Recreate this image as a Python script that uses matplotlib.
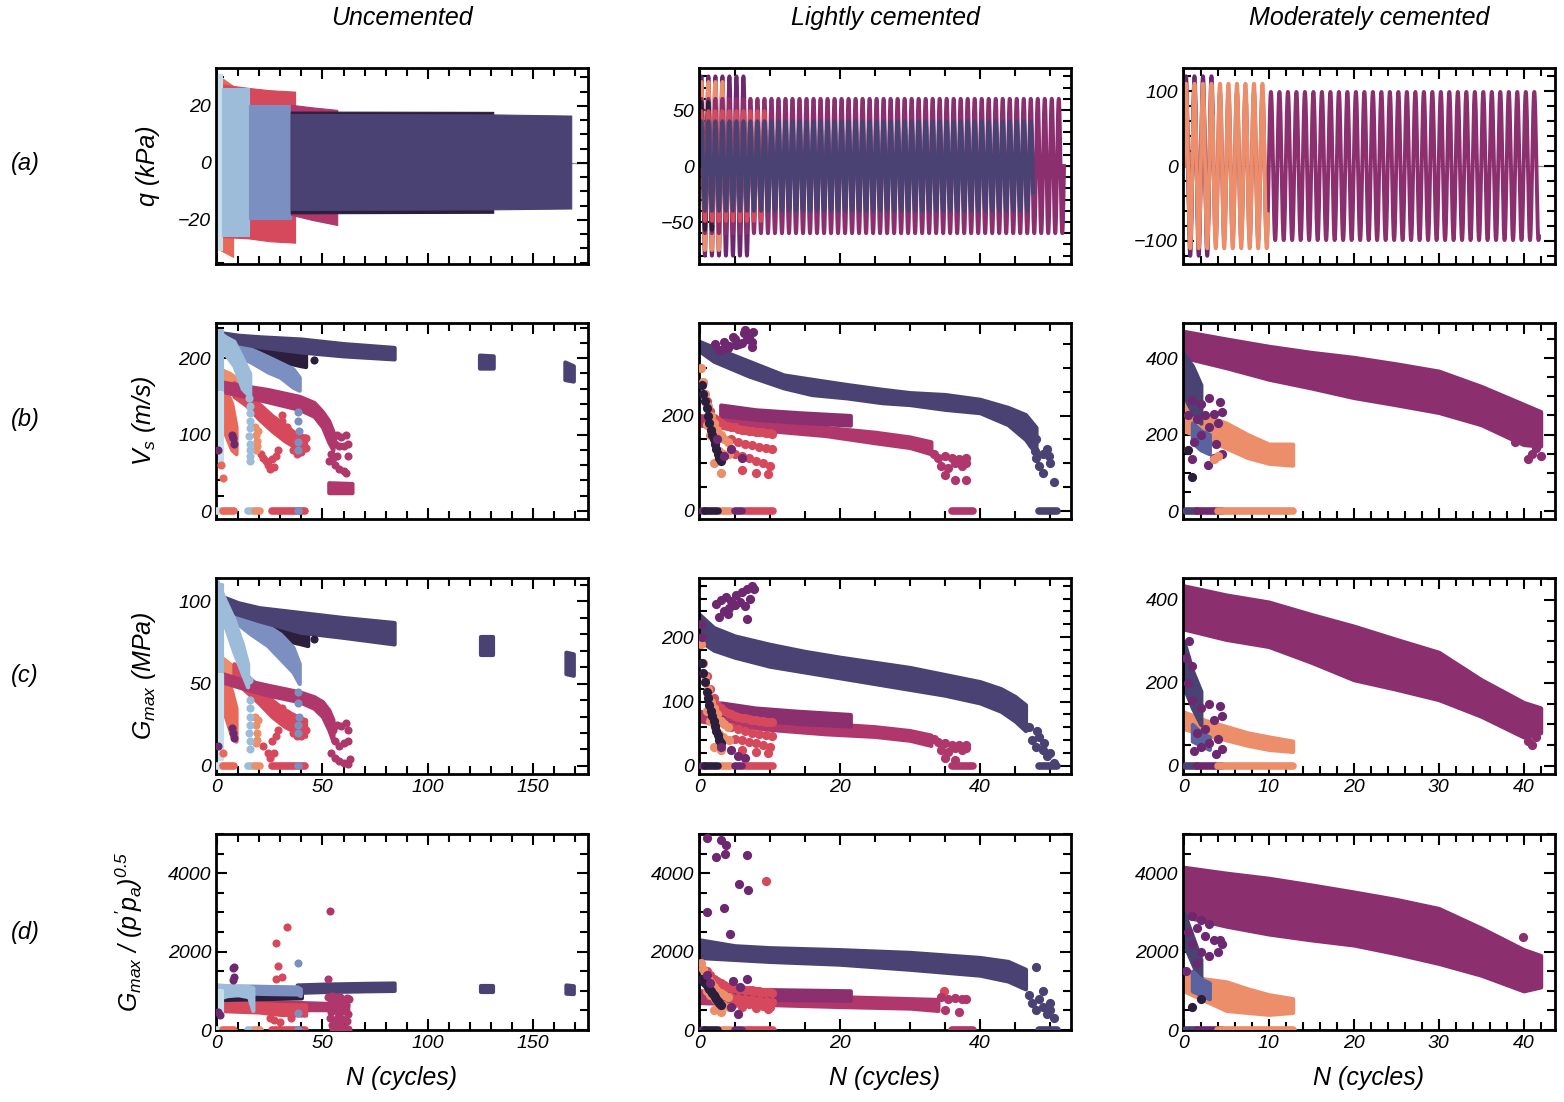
import numpy as np
import matplotlib
matplotlib.use("Agg")
import matplotlib.pyplot as plt
from matplotlib.ticker import MultipleLocator

plt.rcParams["font.family"] = "Liberation Sans"
plt.rcParams["font.style"] = "italic"
plt.rcParams["mathtext.fontset"] = "custom"
plt.rcParams["mathtext.it"] = "Liberation Sans:italic"
plt.rcParams["mathtext.rm"] = "Liberation Sans:italic"

# specimen colours
NAVY = "#2b1f3d"
SLATE = "#4a4272"
BLUEGREY = "#5b62a0"
PERI = "#7b90c0"
LIGHT = "#9cbcd9"
PALE = "#c6dfea"
PURPLE = "#6d2870"
PLUM = "#8b2f6f"
MAGENTA = "#b0376b"
RED = "#d6485c"
CORAL = "#e8685a"
ORANGE = "#ec8e69"

# ---------------- Uncemented ----------------
# deviator stress envelopes: (colour, N, upper, lower)
unc_q_blocks = [
    (CORAL, [0, 7.6], [31, 27], [-30, -33]),
    (RED, [2.5, 15, 25, 37], [27.5, 26.3, 25.5, 25], [-26, -26.5, -27.5, -28]),
    (PALE, [0, 2.4], [31.2, 31.2], [-30.5, -30.5]),
    (LIGHT, [2.4, 15.3], [26.3, 26.3], [-25.6, -25.6]),
    (PERI, [15.3, 35], [20.4, 20.4], [-19.8, -19.8]),
    (MAGENTA, [35, 45, 57], [20.4, 19.5, 18.6], [-18.2, -20, -21.8]),
    (NAVY, [35, 131], [18.0, 17.9], [-17.7, -17.5]),
    (SLATE, [35, 131, 168], [17.2, 17.0, 16.6], [-16.5, -16.3, -16.0]),
]

# shear wave velocity bands: (colour, N, upper, lower)
unc_vs_bands = [
    (CORAL, [1, 4, 7, 9], [170, 160, 140, 110], [140, 100, 80, 75]),
    (ORANGE, [2, 6, 10], [185, 180, 172], [172, 165, 160]),
    (RED, [8, 14, 20, 26, 32, 38, 42], [168, 155, 140, 125, 113, 100, 98],
     [150, 138, 120, 105, 92, 82, 80]),
    (MAGENTA, [0, 10, 24, 39, 46, 50, 53, 55], [170, 165, 159, 150, 142, 130, 118, 104],
     [158, 152, 143, 133, 124, 110, 90, 80]),
    (MAGENTA, [53, 64], [37, 36], [24, 24]),
    (NAVY, [3, 10, 20, 30, 40, 42], [226, 220, 214, 210, 206, 204], [222, 212, 203, 196, 190, 189]),
    (PERI, [0, 8, 16, 24, 30, 36, 39], [234, 222, 212, 202, 194, 186, 175],
     [226, 205, 195, 182, 175, 162, 158]),
    (SLATE, [0, 10, 20, 40, 60, 84], [234, 230, 228, 225, 219, 214], [226, 220, 215, 208, 203, 199]),
    (SLATE, [124.5, 131], [204, 203], [187, 187]),
    (SLATE, [165, 169], [195, 190], [172, 170]),
    (LIGHT, [0, 4, 8, 12, 15.5], [236, 228, 222, 200, 180], [228, 205, 190, 160, 150]),
    (LIGHT, [0.3, 2.5], [236, 236], [150, 150]),
    (PALE, [0.3, 2.5], [155, 155], [62, 62]),
]
unc_vs_dots = [
    (RED, [21, 22, 23, 24, 25, 26, 28, 29, 27, 31, 31, 33, 36, 38, 40, 42, 42, 35],
     [75, 70, 66, 60, 55, 68, 72, 80, 58, 125, 118, 110, 80, 75, 77, 82, 95, 100]),
    (MAGENTA, [53, 55, 57, 59, 61, 56, 58, 60, 62, 54, 55, 56, 58, 60, 61, 53, 57, 62],
     [98, 95, 100, 97, 100, 88, 85, 85, 88, 75, 70, 60, 55, 52, 50, 65, 72, 72]),
    (CORAL, [3, 2], [43, 60]),
    (ORANGE, [18, 18.5, 19, 19, 18.5, 19.5], [110, 100, 92, 85, 80, 105]),
    (PURPLE, [7.5, 8, 7, 0.5], [95, 88, 100, 80]),
    (PERI, [38.5, 38.5, 38.8, 38.5, 38.2], [130, 118, 105, 90, 80]),
    (NAVY, [46], [197]),
    (LIGHT, [15.3, 15.7, 15.4, 15.8, 15.5, 15.2, 15.6, 15.4, 15.7, 15.5],
     [148, 138, 128, 118, 108, 98, 88, 80, 72, 65]),
]
unc_zero = [(PALE, 0, 2.5), (CORAL, 3, 8), (LIGHT, 14.5, 17), (ORANGE, 18, 20.5),
            (RED, 26, 41.5), (PERI, 38.5, 39), (SLATE, 168.5, 168.6)]

# small-strain stiffness bands
unc_g_bands = [
    (CORAL, [1, 4, 7, 9], [62, 56, 45, 35], [45, 30, 18, 15]),
    (ORANGE, [2, 6, 10], [66, 62, 56], [58, 54, 50]),
    (RED, [8, 14, 20, 26, 32, 38, 42], [62, 55, 48, 40, 34, 30, 28], [52, 45, 38, 30, 24, 20, 18]),
    (MAGENTA, [0, 10, 24, 39, 46, 50, 53, 55], [57, 53, 49, 45, 42, 39, 34, 28],
     [52, 48, 43, 39, 35, 30, 22, 15]),
    (NAVY, [3, 10, 20, 30, 40, 43], [98, 93, 88, 84, 81, 80], [94, 88, 82, 77, 74, 73]),
    (PERI, [0, 8, 16, 24, 30, 36, 39], [105, 97, 91, 85, 80, 72, 62], [100, 88, 80, 73, 65, 57, 50]),
    (SLATE, [0, 10, 20, 40, 60, 84], [104, 99, 96, 93, 90, 87], [97, 92, 88, 81, 78, 74]),
    (SLATE, [125, 131], [78, 78], [67, 67]),
    (SLATE, [165.5, 169], [69, 68], [56, 55]),
    (LIGHT, [0, 4, 8, 12, 14.5], [112, 100, 89, 74, 62], [102, 84, 69, 56, 48]),
    (LIGHT, [0.3, 2.5], [110, 110], [50, 50]),
    (PALE, [0.3, 2.5], [55, 55], [4, 4]),
]
unc_g_dots = [
    (RED, [22, 24, 25, 26, 28, 29, 31, 33, 36, 38, 40, 42, 27],
     [12, 8, 5, 15, 18, 22, 35, 32, 20, 18, 18, 22, 8]),
    (MAGENTA, [55, 57, 59, 61, 62, 56, 58, 60, 62, 54, 56, 58, 60, 62, 63],
     [22, 25, 24, 26, 22, 15, 12, 14, 15, 8, 5, 3, 2, 1, 4]),
    (CORAL, [3], [8]),
    (ORANGE, [18, 18.5, 19, 19, 18.5, 19.5], [30, 25, 20, 16, 14, 28]),
    (PURPLE, [7.5, 8, 7, 0.5], [20, 17, 23, 12]),
    (PERI, [38.5, 38.5, 38.8, 38.5, 38.2], [45, 38, 30, 25, 20]),
    (NAVY, [46], [77]),
    (LIGHT, [15.3, 15.7, 15.4, 15.8, 15.5, 15.2, 15.6, 15.5], [52, 40, 35, 30, 25, 20, 15, 10]),
]

# normalised stiffness bands
unc_n_bands = [
    (MAGENTA, [0, 20, 40, 52, 62], [760, 720, 700, 680, 690], [560, 540, 520, 520, 500]),
    (RED, [0, 10, 20, 30, 42], [720, 700, 680, 650, 640], [500, 480, 460, 400, 380]),
    (NAVY, [2, 20, 40], [900, 910, 920], [780, 800, 820]),
    (SLATE, [38, 50, 60, 70, 84], [1150, 1170, 1180, 1190, 1200], [960, 980, 990, 1000, 1010]),
    (SLATE, [125, 131], [1120, 1120], [960, 960]),
    (SLATE, [165.5, 169], [1150, 1130], [940, 930]),
    (PERI, [0, 17, 25, 38, 39.5], [1120, 1120, 1110, 1100, 1050], [950, 940, 930, 920, 880]),
    (LIGHT, [0, 5, 10, 15, 17], [1150, 1130, 1120, 1110, 1080], [800, 880, 900, 850, 500]),
    (PALE, [0.3, 2.5], [1000, 1000], [420, 420]),
]
unc_n_dots = [
    (RED, [27.8, 29, 33, 31, 27.8, 25, 27, 30, 35], [2210, 1630, 2630, 1360, 1290, 300, 250, 200, 300]),
    (MAGENTA, [52.5, 53.5, 54.5, 55.5, 56.5, 57.5, 58.5, 59.5, 60.5, 61.5, 62.5, 53, 55, 57, 59, 61,
               54, 56, 58, 60, 62, 53.5, 55.5, 57.5, 59.5, 61.5, 54.5, 56.5, 58.5, 60.5, 62, 55, 59],
     [850, 820, 860, 800, 840, 780, 830, 800, 760, 820, 790, 650, 600, 680, 620, 640,
      450, 500, 420, 480, 400, 300, 250, 320, 280, 220, 120, 80, 150, 60, 30, 40, 20]),
    (MAGENTA, [53.6, 52.4], [3030, 1290]),
    (PERI, [38.2, 38.5], [1715, 430]),
    (PURPLE, [7.7, 8.2, 7.7, 7.9, 0.5, 1.5], [1590, 1620, 1280, 1350, 450, 380]),
]

# ---------------- Lightly cemented ----------------
# sinusoidal loading: (colour, last cycle, amplitude kPa)
light_q_tests = [
    (PURPLE, 6.9, 80),
    (ORANGE, 3.4, 75),
    (PLUM, 52.0, 60),
    (NAVY, 1.8, 57),
    (RED, 9.5, 49),
    (SLATE, 47.6, 40),
]

# early-failure clusters share the same cycle positions in every panel
light_red_n = [1, 1.5, 2, 2.5, 3, 3.5, 4, 4.5, 5, 5.5, 6, 6.5, 7, 7.5, 8, 8.5, 9, 9.5, 10, 10.3,
               4.5, 5.5, 6.5, 7.5, 8.5, 9.5, 10.3, 5, 6, 7, 8, 9, 10, 6, 8, 9.8]
light_orange_n = [0.2, 0.5, 0.8, 1.2, 1.6, 2, 2.5, 3, 3.5, 4, 1, 1.5, 2.2, 2.8, 3.3, 4.2, 2, 3]
light_navy_n = [0.3, 0.5, 0.7, 1, 1.2, 1.4, 1.6, 1.8, 2, 2.2, 2.4, 2.6, 2.8, 3]

light_vs_bands = [
    (MAGENTA, [0, 5, 11, 18, 25, 30, 33], [200, 190, 185, 175, 165, 155, 145],
     [180, 172, 167, 158, 143, 133, 120]),
    (PLUM, [3, 8, 14, 21.5], [222, 212, 206, 200], [200, 192, 186, 180]),
    (SLATE, [0, 2, 7, 12, 16, 21, 26, 30, 35, 40, 44, 46.5, 48],
     [355, 343, 314, 285, 276, 265, 255, 248, 244, 234, 217, 202, 175],
     [335, 314, 283, 258, 244, 237, 227, 223, 213, 206, 181, 150, 120]),
]
light_vs_dots = [
    (RED, light_red_n,
     [230, 210, 195, 190, 185, 180, 178, 176, 175, 172, 170, 170, 168, 168, 166, 165, 165, 164, 163, 162,
      150, 145, 140, 138, 135, 132, 130, 120, 115, 110, 105, 100, 95, 85, 80, 78]),
    (ORANGE, light_orange_n,
     [300, 270, 245, 220, 200, 185, 170, 160, 150, 145, 180, 160, 140, 125, 120, 120, 100, 80]),
    (NAVY, light_navy_n, [265, 245, 230, 215, 200, 185, 170, 160, 150, 140, 130, 120, 110, 105]),
    (SLATE, [47, 47.5, 48, 48.5, 49, 49.5, 50, 50.5, 49, 48, 47.8, 49.8],
     [160, 140, 110, 95, 120, 130, 100, 61, 80, 150, 125, 115]),
    (PURPLE, [2.2, 2.8, 3.5, 4.2, 5, 5.6, 6.3, 7, 7.6, 3, 4, 5.2, 6, 6.8, 7.4, 4.8, 6.5, 7.5],
     [350, 338, 355, 345, 360, 350, 372, 365, 375, 337, 342, 348, 352, 360, 343, 365, 380, 355]),
    (MAGENTA, [33.5, 34, 35, 36, 37, 38, 34.5, 35.5, 36.5, 37.5, 38, 35, 36.5, 38],
     [120, 110, 115, 112, 108, 110, 95, 90, 100, 95, 100, 75, 65, 65]),
    (PURPLE, [4.5, 3.5, 6, 2.5], [130, 115, 110, 150]),
]
light_zero = [(SLATE, 48.5, 51), (MAGENTA, 36, 39), (RED, 6.5, 10.5), (ORANGE, 3, 4.5),
              (PURPLE, 5, 6), (PURPLE, 0.3, 0.7), (NAVY, 0.7, 2.6)]

light_g_bands = [
    (MAGENTA, [0, 5, 11, 18, 25, 30, 33], [85, 76, 72, 66, 61, 55, 48], [70, 62, 56, 50, 46, 40, 32]),
    (PLUM, [3, 8, 14, 21.5], [98, 90, 85, 80], [80, 72, 66, 62]),
    (SLATE, [0, 2, 5, 10, 15, 20, 25, 30, 35, 40, 43, 45, 46.5],
     [235, 215, 202, 189, 178, 169, 161, 153, 142, 131, 120, 108, 95],
     [195, 180, 169, 155, 146, 137, 128, 119, 110, 98, 85, 70, 55]),
]
light_g_dots = [
    (RED, light_red_n,
     [140, 120, 105, 95, 90, 85, 82, 80, 78, 76, 75, 74, 73, 72, 71, 70, 70, 69, 68, 68,
      60, 57, 55, 52, 50, 48, 46, 42, 40, 38, 35, 32, 30, 25, 22, 20]),
    (ORANGE, light_orange_n, [190, 160, 140, 120, 100, 90, 80, 70, 65, 60, 85, 70, 60, 50, 45, 40, 30, 25]),
    (NAVY, light_navy_n, [160, 145, 130, 115, 105, 95, 85, 78, 70, 62, 55, 48, 40, 35]),
    (SLATE, [47, 47.5, 48, 48.5, 49, 49.5, 50, 50.5, 49.2, 48.2], [60, 40, 30, 45, 25, 15, 20, 5, 35, 55]),
    (PURPLE, [2.4, 3, 3.8, 4.5, 5.2, 6, 6.8, 7.5, 3.5, 4.2, 5, 5.8, 6.5, 7.2, 7.8, 6.8, 2.8, 4],
     [252, 258, 262, 257, 265, 270, 275, 280, 240, 245, 250, 255, 248, 260, 275, 228, 232, 236]),
    (MAGENTA, [33.5, 34, 35, 36, 37, 38, 34.5, 35.5, 36.5, 37.5, 38, 35, 36.5],
     [42, 38, 35, 33, 32, 33, 25, 22, 28, 25, 28, 12, 10]),
    (PURPLE, [4.5, 5.5, 6.5, 3, 0.2, 0.3], [25, 15, 12, 30, 220, 200]),
]

light_n_bands = [
    (MAGENTA, [0, 10, 20, 30, 34], [1000, 900, 850, 800, 780], [700, 650, 600, 560, 500]),
    (PLUM, [3, 10, 21.5], [1050, 1030, 1000], [800, 780, 760]),
    (SLATE, [0, 5, 10, 20, 30, 40, 44, 46.5], [2300, 2150, 2100, 2050, 1980, 1850, 1750, 1550],
     [1850, 1800, 1750, 1680, 1550, 1400, 1250, 1050]),
]
light_n_dots = [
    (RED, light_red_n,
     [1500, 1400, 1300, 1250, 1200, 1150, 1100, 1080, 1060, 1050, 1040, 1030, 1020, 1010, 1000, 990, 980,
      970, 960, 950, 850, 820, 800, 780, 760, 740, 720, 700, 680, 660, 640, 620, 600, 580, 560, 540]),
    (ORANGE, light_orange_n,
     [1700, 1550, 1400, 1300, 1200, 1100, 1000, 950, 900, 850, 1000, 900, 800, 700, 650, 600, 500, 450]),
    (NAVY, light_navy_n, [1300, 1250, 1200, 1150, 1100, 1050, 1000, 950, 900, 850, 800, 750, 700, 650]),
    (SLATE, [47, 47.5, 48, 48.5, 49, 49.5, 50, 50.5, 48, 49, 50],
     [900, 700, 500, 800, 600, 400, 700, 300, 1610, 1000, 500]),
    (PURPLE, [1, 3.1, 3.8, 2.4, 3.6, 6.7, 5.6, 6.9, 1, 3.5, 4.4],
     [4890, 4840, 4710, 4415, 4480, 4475, 3730, 3560, 3000, 3100, 2440]),
    (RED, [9.5, 34.9], [3810, 1000]),
    (MAGENTA, [34.5, 35.5, 36.5, 37.5, 38, 35, 37], [850, 800, 820, 780, 790, 500, 450]),
    (PURPLE, [4.5, 5.5, 1, 1.5, 4.8, 5.8, 6.8], [600, 400, 1400, 1200, 1250, 1100, 1300]),
]

# ---------------- Moderately cemented ----------------
mod_q_tests = [
    (PLUM, 41.8, 99),
    (PURPLE, 3.4, 120),
    (ORANGE, 9.9, 110),
]

mod_vs_bands = [
    (PLUM, [0, 5, 10, 15, 20, 25, 30, 35, 40, 42], [470, 450, 431, 415, 402, 385, 366, 326, 279, 260],
     [402, 375, 345, 322, 297, 278, 258, 226, 174, 170]),
    (ORANGE, [0, 2.5, 5, 7.5, 10, 12.8], [280, 250, 230, 200, 175, 175], [210, 190, 165, 140, 125, 120]),
    (SLATE, [0, 1, 2], [410, 380, 330], [300, 260, 230]),
    (BLUEGREY, [1, 2, 3], [230, 210, 200], [180, 160, 150]),
]
mod_vs_dots = [
    (PURPLE, [1, 2, 3, 4.2, 4.5, 3.5, 2.5, 1.5, 4, 3, 2, 1.2, 3.8, 4.5, 3.5, 2.8, 1, 0.5],
     [290, 280, 295, 285, 260, 255, 250, 240, 230, 220, 200, 180, 175, 150, 140, 120, 135, 250]),
    (PLUM, [41, 40.5, 42, 41.5, 39], [150, 135, 145, 165, 180]),
    (NAVY, [1, 0.5], [90, 160]),
    (ORANGE, [4, 3.5], [145, 135]),
]
mod_zero = [(SLATE, 0.3, 1.5), (PURPLE, 1.5, 4.5), (ORANGE, 4, 12.8)]

mod_g_bands = [
    (PLUM, [0, 5, 10, 15, 20, 25, 30, 35, 40, 42], [434, 412, 395, 365, 337, 305, 274, 208, 153, 140],
     [330, 305, 288, 250, 208, 185, 160, 120, 70, 80]),
    (ORANGE, [0, 2.5, 5, 7.5, 10, 12.8], [130, 110, 95, 80, 70, 60], [90, 75, 63, 50, 40, 35]),
    (SLATE, [0, 1, 2], [300, 230, 180], [190, 140, 100]),
    (BLUEGREY, [1, 2, 3], [100, 80, 70], [60, 50, 40]),
]
mod_g_dots = [
    (PURPLE, [1, 2, 3, 4.2, 4.5, 3.5, 2.5, 1.5, 4, 3, 2, 1.2, 3.8, 4.5, 0.5, 0.3, 0.6, 1],
     [160, 140, 150, 145, 120, 110, 90, 80, 65, 55, 45, 35, 30, 40, 200, 260, 300, 240]),
    (PLUM, [40.5, 41, 41.5, 39.5], [60, 50, 70, 90]),
]

mod_n_bands = [
    (PLUM, [0, 5, 10, 15, 20, 25, 30, 35, 40, 42],
     [4150, 4000, 3870, 3700, 3520, 3330, 3100, 2600, 2050, 1900],
     [2900, 2650, 2450, 2300, 2170, 1950, 1700, 1400, 1000, 1100]),
    (ORANGE, [0, 2.5, 5, 7.5, 10, 12.8], [1450, 1300, 1230, 1050, 900, 800], [1000, 750, 500, 450, 400, 450]),
    (SLATE, [0, 1, 2], [3000, 2400, 1800], [2200, 1700, 1200]),
    (BLUEGREY, [1, 2, 3], [1500, 1300, 1200], [1000, 900, 800]),
]
mod_n_dots = [
    (PURPLE, [1, 2, 1.5, 3, 2.5, 3.5, 4.2, 4.5, 4, 1, 2, 0.5, 3, 1.5, 0.3],
     [2900, 2800, 2600, 2700, 2400, 2300, 2300, 2200, 2000, 2200, 2000, 2500, 1900, 1700, 1500]),
    (PLUM, [39.9], [2380]),
    (NAVY, [1, 2], [600, 800]),
]


def draw_blocks(ax, blocks):
    for colour, n, upper, lower in blocks:
        ax.fill_between(n, lower, upper, color=colour, lw=0.8, zorder=2)


def draw_waves(ax, tests):
    for colour, n_end, amp in tests:
        n = np.linspace(0, n_end, int(n_end * 300) + 2)
        ax.plot(n, amp * np.sin(2 * np.pi * n), color=colour, lw=2.8, zorder=2)


def draw_bands(ax, bands):
    for colour, n, upper, lower in bands:
        ax.fill_between(n, lower, upper, color=colour, edgecolor=colour, lw=3.0,
                        joinstyle="round", zorder=2)


def draw_dots(ax, dots, size):
    for colour, n, vals in dots:
        ax.scatter(n, vals, s=size, color=colour, lw=0, zorder=3)


def draw_zero(ax, runs):
    for colour, n0, n1 in runs:
        ax.plot([n0, n1], [0, 0], color=colour, lw=5.5, solid_capstyle="round", zorder=3)


fig = plt.figure(figsize=(15.64, 11.02), dpi=100)
lefts = [0.1381, 0.4469, 0.7564]
bottoms = [0.7604, 0.5290, 0.2976, 0.0653]
W, H = 0.2379, 0.1779
axes = [[fig.add_axes([l, b, W, H]) for l in lefts] for b in bottoms]

# row (a): deviator stress
draw_blocks(axes[0][0], unc_q_blocks)
draw_waves(axes[0][1], light_q_tests)
draw_waves(axes[0][2], mod_q_tests)
for ax in axes[0]:
    ax.axhline(0, color="#8a8a8a", lw=0.9, zorder=1)

# rows (b)-(d): Vs, Gmax and normalised Gmax
panels = [
    [(unc_vs_bands, unc_vs_dots, unc_zero), (light_vs_bands, light_vs_dots, light_zero),
     (mod_vs_bands, mod_vs_dots, mod_zero)],
    [(unc_g_bands, unc_g_dots, unc_zero), (light_g_bands, light_g_dots, light_zero),
     (mod_g_bands, mod_g_dots, mod_zero)],
    [(unc_n_bands, unc_n_dots, unc_zero), (light_n_bands, light_n_dots, light_zero),
     (mod_n_bands, mod_n_dots, mod_zero)],
]
dot_size = [34, 44, 44]
for r, row in enumerate(panels, start=1):
    for c, (bands, dots, zero) in enumerate(row):
        draw_bands(axes[r][c], bands)
        draw_dots(axes[r][c], dots, dot_size[c])
        draw_zero(axes[r][c], zero)

# axis ranges and ticks
x_setup = [((-0.5, 176), 50, 10), ((-0.1, 53), 20, 5), ((-0.1, 43.7), 10, 2)]
y_setup = [
    [((-35.5, 33.3), 20, 5), ((-87.5, 87.5), 50, 10), ((-131, 131), 100, 20)],
    [((-10.5, 246), 100, 20), ((-17, 394), 200, 50), ((-21, 492), 200, 50)],
    [((-4.9, 114), 50, 10), ((-12.5, 292), 100, 20), ((-19.4, 453), 200, 50)],
    [((0, 5000), 2000, 500), ((0, 5000), 2000, 500), ((0, 5000), 2000, 500)],
]
for r in range(4):
    for c in range(3):
        ax = axes[r][c]
        (xl, xmaj, xmin) = x_setup[c]
        (yl, ymaj, ymin) = y_setup[r][c]
        ax.set_xlim(xl)
        ax.set_ylim(yl)
        ax.xaxis.set_major_locator(MultipleLocator(xmaj))
        ax.xaxis.set_minor_locator(MultipleLocator(xmin))
        ax.yaxis.set_major_locator(MultipleLocator(ymaj))
        ax.yaxis.set_minor_locator(MultipleLocator(ymin))
        ax.tick_params(which="both", direction="in", top=True, right=True, labelsize=14, width=1.5)
        ax.tick_params(which="major", length=8)
        ax.tick_params(which="minor", length=5.5)
        for sp in ax.spines.values():
            sp.set_linewidth(2.0)
        if r < 2:
            ax.tick_params(labelbottom=False)
        if r == 3:
            ax.set_xlabel("N (cycles)", fontsize=18, labelpad=10)

ylabels = ["q (kPa)", r"$V_s$ (m/s)", r"$G_{max}$ (MPa)", r"$G_{max}$ / $(p'p_a)^{0.5}$"]
label_x = [-0.15, -0.155, -0.155, -0.19]
for r in range(4):
    axes[r][0].set_ylabel(ylabels[r], fontsize=18)
    axes[r][0].yaxis.set_label_coords(label_x[r], 0.5)

titles = ["Uncemented", "Lightly cemented", "Moderately cemented"]
for c in range(3):
    fig.text(lefts[c] + W / 2, 0.984, titles[c], fontsize=18, ha="center", va="center")

row_tags = ["(a)", "(b)", "(c)", "(d)"]
row_y = [0.852, 0.619, 0.3866, 0.154]
for r in range(4):
    fig.text(0.007, row_y[r], row_tags[r], fontsize=17, ha="left", va="center")

fig.savefig("out.png", dpi=100)
